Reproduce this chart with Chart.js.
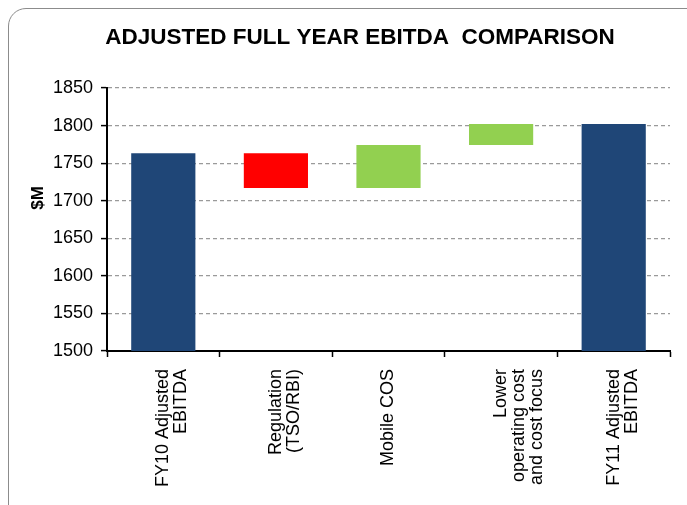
<!DOCTYPE html>
<html>
<head>
<meta charset="utf-8">
<script src="https://cdn.jsdelivr.net/npm/chart.js@4"></script>
<style>
  body { margin: 0; background: #fff; }
  #wrap { position: relative; width: 687px; height: 505px; overflow: hidden; }
  #frame {
    position: absolute; left: 8px; top: 8px; width: 720px; height: 540px;
    border: 1px solid #8c8c8c; border-radius: 18px; box-sizing: border-box;
  }
  canvas { position: absolute; left: 0; top: 0; }
</style>
</head>
<body>
<div id="wrap">
  <div id="frame"></div>
  <canvas id="graph" width="687" height="505"></canvas>
</div>
<script>
// waterfall steps
const categories = [
  ['FY10 Adjusted', 'EBITDA'],
  ['Regulation', '(TSO/RBI)'],
  ['Mobile COS'],
  ['Lower', 'operating cost', 'and cost focus'],
  ['FY11 Adjusted', 'EBITDA']
];
const barStart = [1500, 1717, 1717, 1774, 1500];
const barEnd = [1763, 1763, 1774, 1802, 1802];
const barColors = ['#1f4677', '#ff0000', '#92d050', '#92d050', '#1f4677'];

const font = 'Liberation Sans, Arial, sans-serif';

// "$M" sits a bit above the middle of the axis, so draw it by hand
const yTitle = {
  id: 'yTitle',
  afterDraw(chart) {
    const ctx = chart.ctx;
    ctx.save();
    ctx.translate(38, 198);
    ctx.rotate(-Math.PI / 2);
    ctx.font = 'bold 17px ' + font;
    ctx.fillStyle = '#000';
    ctx.textAlign = 'center';
    ctx.textBaseline = 'middle';
    ctx.fillText('$M', 0, 0);
    ctx.restore();
  }
};

new Chart(document.getElementById('graph'), {
  type: 'bar',
  data: {
    labels: categories,
    datasets: [{
      data: barStart.map((s, i) => [s, barEnd[i]]),
      backgroundColor: barColors,
      borderSkipped: false,
      categoryPercentage: 1,
      barPercentage: 0.57
    }]
  },
  plugins: [yTitle],
  options: {
    responsive: false,
    animation: false,
    // left padding shifts the title centre to match
    layout: { padding: { left: 50, right: 17, top: 0, bottom: 0 } },
    plugins: {
      legend: { display: false },
      tooltip: { enabled: false },
      title: {
        display: true,
        text: 'ADJUSTED FULL YEAR EBITDA  COMPARISON',
        color: '#000',
        font: { family: font, size: 22.5, weight: 'bold' },
        padding: { top: 24, bottom: 37 }
      }
    },
    scales: {
      x: {
        afterFit: (scale) => { scale.height = 154; },
        grid: {
          offset: true,
          drawOnChartArea: false,
          drawTicks: true,
          tickLength: 6,
          tickColor: '#000',
          tickWidth: 1.5
        },
        border: { display: true, color: '#000', width: 2 },
        ticks: {
          color: '#000',
          font: { family: font, size: 18, lineHeight: 1.0 },
          minRotation: 90,
          maxRotation: 90,
          padding: 12,
          autoSkip: false
        }
      },
      y: {
        min: 1500,
        max: 1850,
        afterFit: (scale) => { scale.width = 57; },
        grid: {
          color: '#9a9a9a',
          lineWidth: 1.2,
          tickColor: '#000',
          tickLength: 6,
          tickWidth: 1.5,
          tickBorderDash: []
        },
        border: { display: true, color: '#000', width: 2, dash: [4, 3] },
        ticks: {
          stepSize: 50,
          color: '#000',
          font: { family: font, size: 18 },
          padding: 8,
          callback: (v) => String(v)
        }
      }
    }
  }
});
</script>
</body>
</html>
